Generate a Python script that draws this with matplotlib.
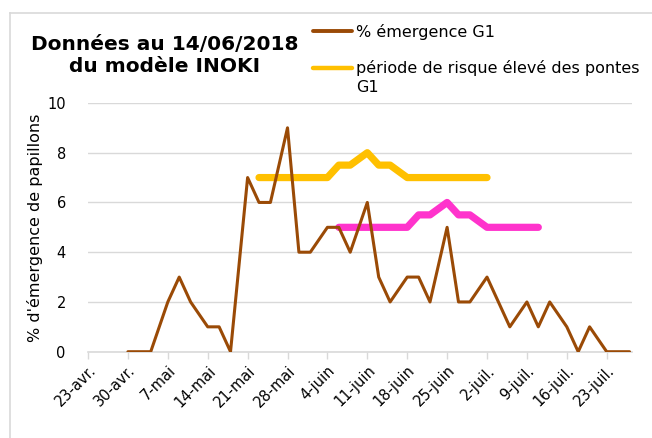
import matplotlib
matplotlib.use("Agg")
import matplotlib.pyplot as plt
from matplotlib.lines import Line2D
import datetime as dt

plt.rcParams['font.family'] = ['DejaVu Sans']

# ---- data ----
emergence_dates = ["2018-04-30", "2018-05-02", "2018-05-04", "2018-05-07", "2018-05-09", "2018-05-11",
                   "2018-05-14", "2018-05-16", "2018-05-18", "2018-05-21", "2018-05-23", "2018-05-25",
                   "2018-05-28", "2018-05-30", "2018-06-01", "2018-06-04", "2018-06-06", "2018-06-08",
                   "2018-06-11", "2018-06-13", "2018-06-15", "2018-06-18", "2018-06-20", "2018-06-22",
                   "2018-06-25", "2018-06-27", "2018-06-29", "2018-07-02", "2018-07-04", "2018-07-06",
                   "2018-07-09", "2018-07-11", "2018-07-13", "2018-07-16", "2018-07-18", "2018-07-20",
                   "2018-07-23", "2018-07-25", "2018-07-27"]
emergence_values = [0, 0, 0, 2, 3, 2,
                    1, 1, 0, 7, 6, 6,
                    9, 4, 4, 5, 5, 4,
                    6, 3, 2, 3, 3, 2,
                    5, 2, 2, 3, 2, 1,
                    2, 1, 2, 1, 0, 1,
                    0, 0, 0]

risk_dates = ["2018-05-23", "2018-05-25", "2018-05-28", "2018-05-30", "2018-06-01", "2018-06-04",
              "2018-06-06", "2018-06-08", "2018-06-11", "2018-06-13", "2018-06-15", "2018-06-18",
              "2018-06-20", "2018-06-22", "2018-06-25", "2018-06-27", "2018-06-29", "2018-07-02"]
risk_values = [7, 7, 7, 7, 7, 7,
               7.5, 7.5, 8, 7.5, 7.5, 7,
               7, 7, 7, 7, 7, 7]

pink_dates = ["2018-06-06", "2018-06-08", "2018-06-11", "2018-06-13", "2018-06-15", "2018-06-18",
              "2018-06-20", "2018-06-22", "2018-06-25", "2018-06-27", "2018-06-29", "2018-07-02",
              "2018-07-04", "2018-07-06", "2018-07-09", "2018-07-11"]
pink_values = [5, 5, 5, 5, 5, 5,
               5.5, 5.5, 6, 5.5, 5.5, 5,
               5, 5, 5, 5]

tick_dates = ["2018-04-23", "2018-04-30", "2018-05-07", "2018-05-14", "2018-05-21", "2018-05-28",
              "2018-06-04", "2018-06-11", "2018-06-18", "2018-06-25", "2018-07-02", "2018-07-09",
              "2018-07-16", "2018-07-23"]
tick_labels = ["23-avr.", "30-avr.", "7-mai", "14-mai", "21-mai", "28-mai", "4-juin", "11-juin",
               "18-juin", "25-juin", "2-juil.", "9-juil.", "16-juil.", "23-juil."]

label_emergence = "% émergence G1"
label_risk = "période de risque élevé des pontes\nG1"
title_text = "Données au 14/06/2018\ndu modèle INOKI"
ylabel_text = "% d'émergence de papillons"

def to_dt(lst):
    return [dt.datetime.strptime(s, "%Y-%m-%d") for s in lst]

BROWN = "#9A4A06"
YELLOW = "#FFC000"
PINK = "#FF33CC"
GRID = "#D9D9D9"

fig = plt.figure(figsize=(6.52, 4.38), dpi=100)
ax = fig.add_axes([0.135, 0.197, 0.834, 0.568])

ax.plot(to_dt(risk_dates), risk_values, color=YELLOW, lw=5.2, solid_capstyle='round',
        solid_joinstyle='round', zorder=3)
ax.plot(to_dt(pink_dates), pink_values, color=PINK, lw=5.2, solid_capstyle='round',
        solid_joinstyle='round', zorder=3)
ax.plot(to_dt(emergence_dates), emergence_values, color=BROWN, lw=2.2, solid_capstyle='round',
        solid_joinstyle='round', zorder=4)

xmin = dt.datetime(2018, 4, 23)
xmax = xmin + dt.timedelta(days=95.4)
ax.set_xlim(xmin, xmax)
ax.set_ylim(0, 10)
ax.set_yticks(range(0, 11, 2))
ax.yaxis.grid(True, color=GRID, lw=1.0)
ax.set_axisbelow(True)

ax.set_xticks(to_dt(tick_dates))
ax.set_xticklabels(tick_labels, rotation=45, ha='right', rotation_mode='anchor', fontsize=10.5)
ax.tick_params(axis='x', length=5, color=GRID, width=1, pad=3)
ax.tick_params(axis='y', length=0, labelsize=10.5, pad=16)
for s in ['top', 'right', 'left']:
    ax.spines[s].set_visible(False)
ax.spines['bottom'].set_color(GRID)
ax.spines['bottom'].set_linewidth(1.2)

ax.set_ylabel(ylabel_text, fontsize=11.5, labelpad=3)

fig.text(0.252, 1-56/438, title_text, ha='center', va='center', fontsize=14.5, fontweight='bold',
         linespacing=1.2)

# legend (drawn manually as figure artists)
fig.add_artist(Line2D([313/652, 352/652], [1-31/438, 1-31/438], color=BROWN, lw=2.8,
                      solid_capstyle='round', transform=fig.transFigure))
fig.text(356/652, 1-32/438, label_emergence, ha='left', va='center', fontsize=11.5)
fig.add_artist(Line2D([313/652, 352/652], [1-68/438, 1-68/438], color=YELLOW, lw=3.2,
                      solid_capstyle='round', transform=fig.transFigure))
fig.text(356/652, 1-60/438, label_risk, ha='left', va='top', fontsize=11.5, linespacing=1.3)

# chart border
fig.add_artist(Line2D([10/652, 10/652], [0, 1-13/438], color=GRID, lw=1.2, transform=fig.transFigure))
fig.add_artist(Line2D([10/652, 1], [1-13/438, 1-13/438], color=GRID, lw=1.2, transform=fig.transFigure))

fig.savefig("out.png", dpi=100)
